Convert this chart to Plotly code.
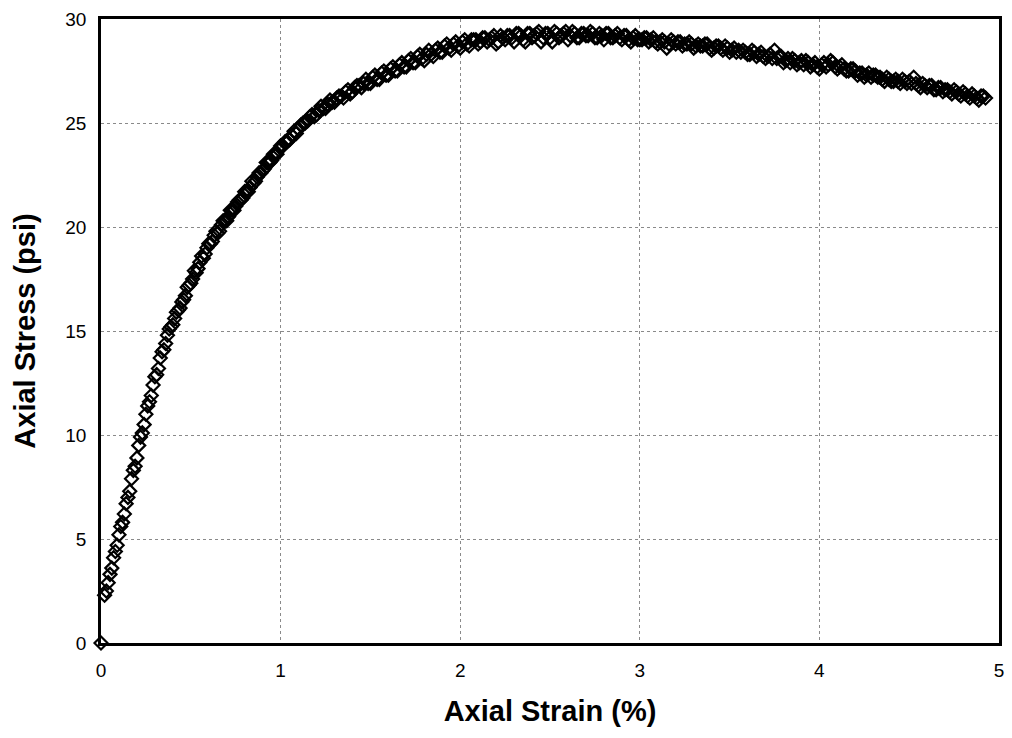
import plotly.graph_objects as go

# Unconfined compression test: axial strain (%) vs axial stress (psi)
# Readings are grouped by test stage; each stage has a main and an intermediate set.
strain_initial = [0.0, 0.02, 0.03, 0.04, 0.06, 0.08, 0.10, 0.12, 0.14, 0.16, 0.18,
                  0.20, 0.22, 0.24, 0.26, 0.28, 0.30, 0.32, 0.34, 0.36, 0.38,
                  0.40, 0.42, 0.44, 0.46, 0.48, 0.50, 0.52, 0.54, 0.56, 0.58,
                  0.60, 0.62, 0.64, 0.66, 0.68, 0.70, 0.72, 0.74, 0.76, 0.78,
                  0.80, 0.82, 0.84, 0.86, 0.88, 0.90, 0.92, 0.94, 0.96, 0.98, 1.00]
stress_initial = [0.0, 2.3, 2.5, 2.9, 3.6, 4.4, 5.2, 5.8, 6.7, 7.3, 8.3,
                  8.9, 9.9, 10.5, 11.4, 11.9, 12.8, 13.2, 14.0, 14.4, 15.1,
                  15.3, 15.9, 16.1, 16.5, 17.1, 17.3, 17.9, 18.0, 18.6, 18.7,
                  19.2, 19.3, 19.8, 19.8, 20.3, 20.3, 20.8, 20.8, 21.2, 21.3,
                  21.7, 21.7, 22.2, 22.2, 22.6, 22.7, 23.1, 23.1, 23.5, 23.5, 23.9]

strain_initial_b = [0.05, 0.07, 0.09, 0.11, 0.13, 0.15, 0.17, 0.19, 0.21, 0.23,
                    0.25, 0.27, 0.29, 0.31, 0.33, 0.35, 0.37, 0.39, 0.41, 0.43,
                    0.45, 0.47, 0.49, 0.51, 0.53, 0.55, 0.57, 0.59, 0.61, 0.63,
                    0.65, 0.67, 0.69, 0.71, 0.73, 0.75, 0.77, 0.79, 0.81, 0.83,
                    0.85, 0.87, 0.89, 0.91, 0.93, 0.95, 0.97, 0.99]
stress_initial_b = [3.3, 4.1, 4.7, 5.6, 6.2, 7.0, 7.9, 8.5, 9.5, 10.1,
                    11.0, 11.6, 12.4, 12.9, 13.7, 14.1, 14.8, 15.2, 15.6, 16.0,
                    16.4, 16.7, 17.2, 17.5, 17.8, 18.3, 18.5, 19.0, 19.2, 19.6,
                    19.7, 20.1, 20.3, 20.5, 20.8, 21.0, 21.3, 21.4, 21.7, 21.9,
                    22.1, 22.4, 22.6, 22.8, 23.1, 23.2, 23.5, 23.7]

strain_rise = [1.025, 1.05, 1.075, 1.10, 1.125, 1.15, 1.175, 1.20, 1.225, 1.25,
               1.275, 1.30, 1.325, 1.35, 1.375, 1.40, 1.425, 1.45, 1.475, 1.50,
               1.525, 1.55, 1.575, 1.60, 1.625, 1.65, 1.675, 1.70, 1.725, 1.75,
               1.775, 1.80, 1.825, 1.85, 1.875, 1.90, 1.925, 1.95, 1.975, 2.00]
stress_rise = [24.1, 24.2, 24.6, 24.7, 25.0, 25.1, 25.4, 25.4, 25.8, 25.7,
               26.1, 26.0, 26.3, 26.2, 26.6, 26.5, 26.8, 26.7, 27.1, 26.9,
               27.3, 27.1, 27.5, 27.3, 27.7, 27.5, 27.9, 27.7, 28.1, 27.9,
               28.3, 28.0, 28.5, 28.2, 28.6, 28.4, 28.8, 28.5, 28.9, 28.6]

strain_rise_b = [1.0125, 1.0375, 1.0625, 1.0875, 1.1125, 1.1375, 1.1625, 1.1875, 1.2125, 1.2375,
                 1.2625, 1.2875, 1.3125, 1.3375, 1.3625, 1.3875, 1.4125, 1.4375, 1.4625, 1.4875,
                 1.5125, 1.5375, 1.5625, 1.5875, 1.6125, 1.6375, 1.6625, 1.6875, 1.7125, 1.7375,
                 1.7625, 1.7875, 1.8125, 1.8375, 1.8625, 1.8875, 1.9125, 1.9375, 1.9625, 1.9875]
stress_rise_b = [23.9, 24.1, 24.4, 24.5, 24.9, 25.0, 25.3, 25.3, 25.6, 25.7,
                 25.9, 26.0, 26.2, 26.3, 26.5, 26.4, 26.7, 26.8, 26.9, 26.9,
                 27.2, 27.1, 27.4, 27.3, 27.6, 27.5, 27.8, 27.7, 28.0, 27.9,
                 28.2, 28.1, 28.3, 28.3, 28.5, 28.4, 28.7, 28.6, 28.8, 28.7]

strain_peak = [2.025, 2.05, 2.075, 2.10, 2.125, 2.15, 2.175, 2.20, 2.225, 2.25,
               2.275, 2.30, 2.325, 2.35, 2.375, 2.40, 2.425, 2.45, 2.475, 2.50,
               2.525, 2.55, 2.575, 2.60, 2.625, 2.65, 2.675, 2.70, 2.725, 2.75,
               2.775, 2.80, 2.825, 2.85, 2.875, 2.90, 2.925, 2.95, 2.975, 3.00]
stress_peak = [29.0, 28.7, 29.0, 28.8, 29.1, 28.9, 29.1, 28.8, 29.2, 29.0,
               29.2, 28.9, 29.3, 29.0, 29.3, 29.1, 29.3, 28.9, 29.3, 29.1,
               29.4, 29.1, 29.3, 29.0, 29.4, 29.1, 29.3, 29.2, 29.4, 29.1,
               29.3, 29.0, 29.3, 29.1, 29.3, 29.0, 29.2, 28.9, 29.2, 29.0]

strain_peak_b = [2.0125, 2.0375, 2.0625, 2.0875, 2.1125, 2.1375, 2.1625, 2.1875, 2.2125, 2.2375,
                 2.2625, 2.2875, 2.3125, 2.3375, 2.3625, 2.3875, 2.4125, 2.4375, 2.4625, 2.4875,
                 2.5125, 2.5375, 2.5625, 2.5875, 2.6125, 2.6375, 2.6625, 2.6875, 2.7125, 2.7375,
                 2.7625, 2.7875, 2.8125, 2.8375, 2.8625, 2.8875, 2.9125, 2.9375, 2.9625, 2.9875]
stress_peak_b = [28.9, 28.8, 29.0, 29.0, 28.9, 29.1, 29.0, 29.2, 28.9, 29.1,
                 29.2, 29.1, 29.3, 29.2, 28.9, 29.3, 29.2, 29.4, 29.1, 29.3,
                 28.9, 29.3, 29.2, 29.4, 29.2, 29.3, 29.1, 29.3, 29.2, 29.3,
                 29.1, 29.2, 29.3, 29.1, 29.2, 29.1, 29.2, 29.0, 29.1, 29.0]

strain_post = [3.025, 3.05, 3.075, 3.10, 3.125, 3.15, 3.175, 3.20, 3.225, 3.25,
               3.275, 3.30, 3.325, 3.35, 3.375, 3.40, 3.425, 3.45, 3.475, 3.50,
               3.525, 3.55, 3.575, 3.60, 3.625, 3.65, 3.675, 3.70, 3.725, 3.75,
               3.775, 3.80, 3.825, 3.85, 3.875, 3.90, 3.925, 3.95, 3.975, 4.00,
               4.025, 4.05, 4.075, 4.10, 4.125, 4.15, 4.175, 4.20, 4.225, 4.25,
               4.275, 4.30, 4.325, 4.35, 4.375, 4.40, 4.425, 4.45, 4.475, 4.50,
               4.525, 4.55, 4.575, 4.60, 4.625, 4.65, 4.675, 4.70, 4.725, 4.75,
               4.775, 4.80, 4.825, 4.85, 4.875, 4.90, 4.925]
stress_post = [29.1, 28.9, 29.1, 28.8, 29.0, 28.6, 29.0, 28.8, 28.9, 28.8,
               28.9, 28.6, 28.8, 28.7, 28.8, 28.5, 28.7, 28.6, 28.7, 28.4,
               28.6, 28.5, 28.5, 28.3, 28.5, 28.2, 28.4, 28.1, 28.3, 28.5,
               28.2, 27.9, 28.1, 28.1, 27.8, 28.0, 28.0, 27.7, 27.9, 27.6,
               27.9, 27.8, 27.9, 27.6, 27.8, 27.5, 27.6, 27.5, 27.4, 27.2,
               27.4, 27.3, 27.2, 27.1, 27.2, 27.0, 27.1, 26.9, 27.0, 27.0,
               27.2, 26.8, 26.9, 26.7, 26.8, 26.6, 26.7, 26.6, 26.5, 26.6,
               26.4, 26.5, 26.3, 26.4, 26.2, 26.3, 26.2]

strain_post_b = [3.0125, 3.0375, 3.0625, 3.0875, 3.1125, 3.1375, 3.1625, 3.1875, 3.2125, 3.2375,
                 3.2625, 3.2875, 3.3125, 3.3375, 3.3625, 3.3875, 3.4125, 3.4375, 3.4625, 3.4875,
                 3.5125, 3.5375, 3.5625, 3.5875, 3.6125, 3.6375, 3.6625, 3.6875, 3.7125, 3.7375,
                 3.7625, 3.7875, 3.8125, 3.8375, 3.8625, 3.8875, 3.9125, 3.9375, 3.9625, 3.9875,
                 4.0125, 4.0375, 4.0625, 4.0875, 4.1125, 4.1375, 4.1625, 4.1875, 4.2125, 4.2375,
                 4.2625, 4.2875, 4.3125, 4.3375, 4.3625, 4.3875, 4.4125, 4.4375, 4.4625, 4.4875,
                 4.5125, 4.5375, 4.5625, 4.5875, 4.6125, 4.6375, 4.6625, 4.6875, 4.7125, 4.7375,
                 4.7625, 4.7875, 4.8125, 4.8375, 4.8625, 4.8875, 4.9125]
stress_post_b = [29.0, 29.1, 29.0, 28.9, 28.9, 28.9, 28.8, 28.9, 28.9, 28.7,
                 28.8, 28.8, 28.7, 28.7, 28.8, 28.6, 28.6, 28.7, 28.5, 28.6,
                 28.5, 28.4, 28.4, 28.4, 28.3, 28.4, 28.3, 28.2, 28.2, 28.1,
                 28.1, 28.2, 28.0, 27.9, 28.0, 27.9, 27.8, 27.9, 27.8, 27.7,
                 27.8, 27.7, 28.0, 27.7, 27.7, 27.6, 27.5, 27.6, 27.3, 27.4,
                 27.3, 27.2, 27.3, 27.2, 27.0, 27.1, 27.0, 27.0, 27.1, 26.9,
                 26.9, 26.9, 26.7, 26.8, 26.8, 26.6, 26.7, 26.5, 26.6, 26.4,
                 26.5, 26.3, 26.4, 26.2, 26.3, 26.1, 26.3]

stages = [
    (strain_initial, stress_initial), (strain_initial_b, stress_initial_b),
    (strain_rise, stress_rise), (strain_rise_b, stress_rise_b),
    (strain_peak, stress_peak), (strain_peak_b, stress_peak_b),
    (strain_post, stress_post), (strain_post_b, stress_post_b),
]
strain, stress = [], []
for xs, ys in stages:
    assert len(xs) == len(ys)
    strain += xs
    stress += ys

x_ticks = [0, 1, 2, 3, 4, 5]
y_ticks = [0, 5, 10, 15, 20, 25, 30]

fig = go.Figure()
fig.add_trace(go.Scatter(
    x=strain, y=stress, mode="markers",
    marker=dict(symbol="diamond-open", size=10, color="black",
                line=dict(color="black", width=2.2)),
    cliponaxis=False, showlegend=False,
))

axis_common = dict(
    showline=True, linecolor="black", linewidth=2.5, mirror=True,
    showgrid=True, gridcolor="#8a8a8a", gridwidth=1, griddash="dot",
    zeroline=False, ticks="",
    tickfont=dict(family="Liberation Sans, Arial, sans-serif", size=19, color="black"),
)

fig.update_xaxes(
    range=[0, 5], tickvals=x_ticks, ticklabelstandoff=8,
    title=dict(text="<b>Axial Strain (%)</b>", standoff=22,
               font=dict(family="Liberation Sans, Arial, sans-serif", size=29, color="black")),
    **axis_common,
)
fig.update_yaxes(
    range=[0, 30], tickvals=y_ticks, ticklabelstandoff=8,
    title=dict(text="<b>Axial Stress (psi)</b>", standoff=22,
               font=dict(family="Liberation Sans, Arial, sans-serif", size=29, color="black")),
    **axis_common,
)

fig.update_layout(
    width=1012, height=738,
    margin=dict(l=101, r=8, t=19, b=95),
    paper_bgcolor="white", plot_bgcolor="white",
)

fig.write_html("out.html")
